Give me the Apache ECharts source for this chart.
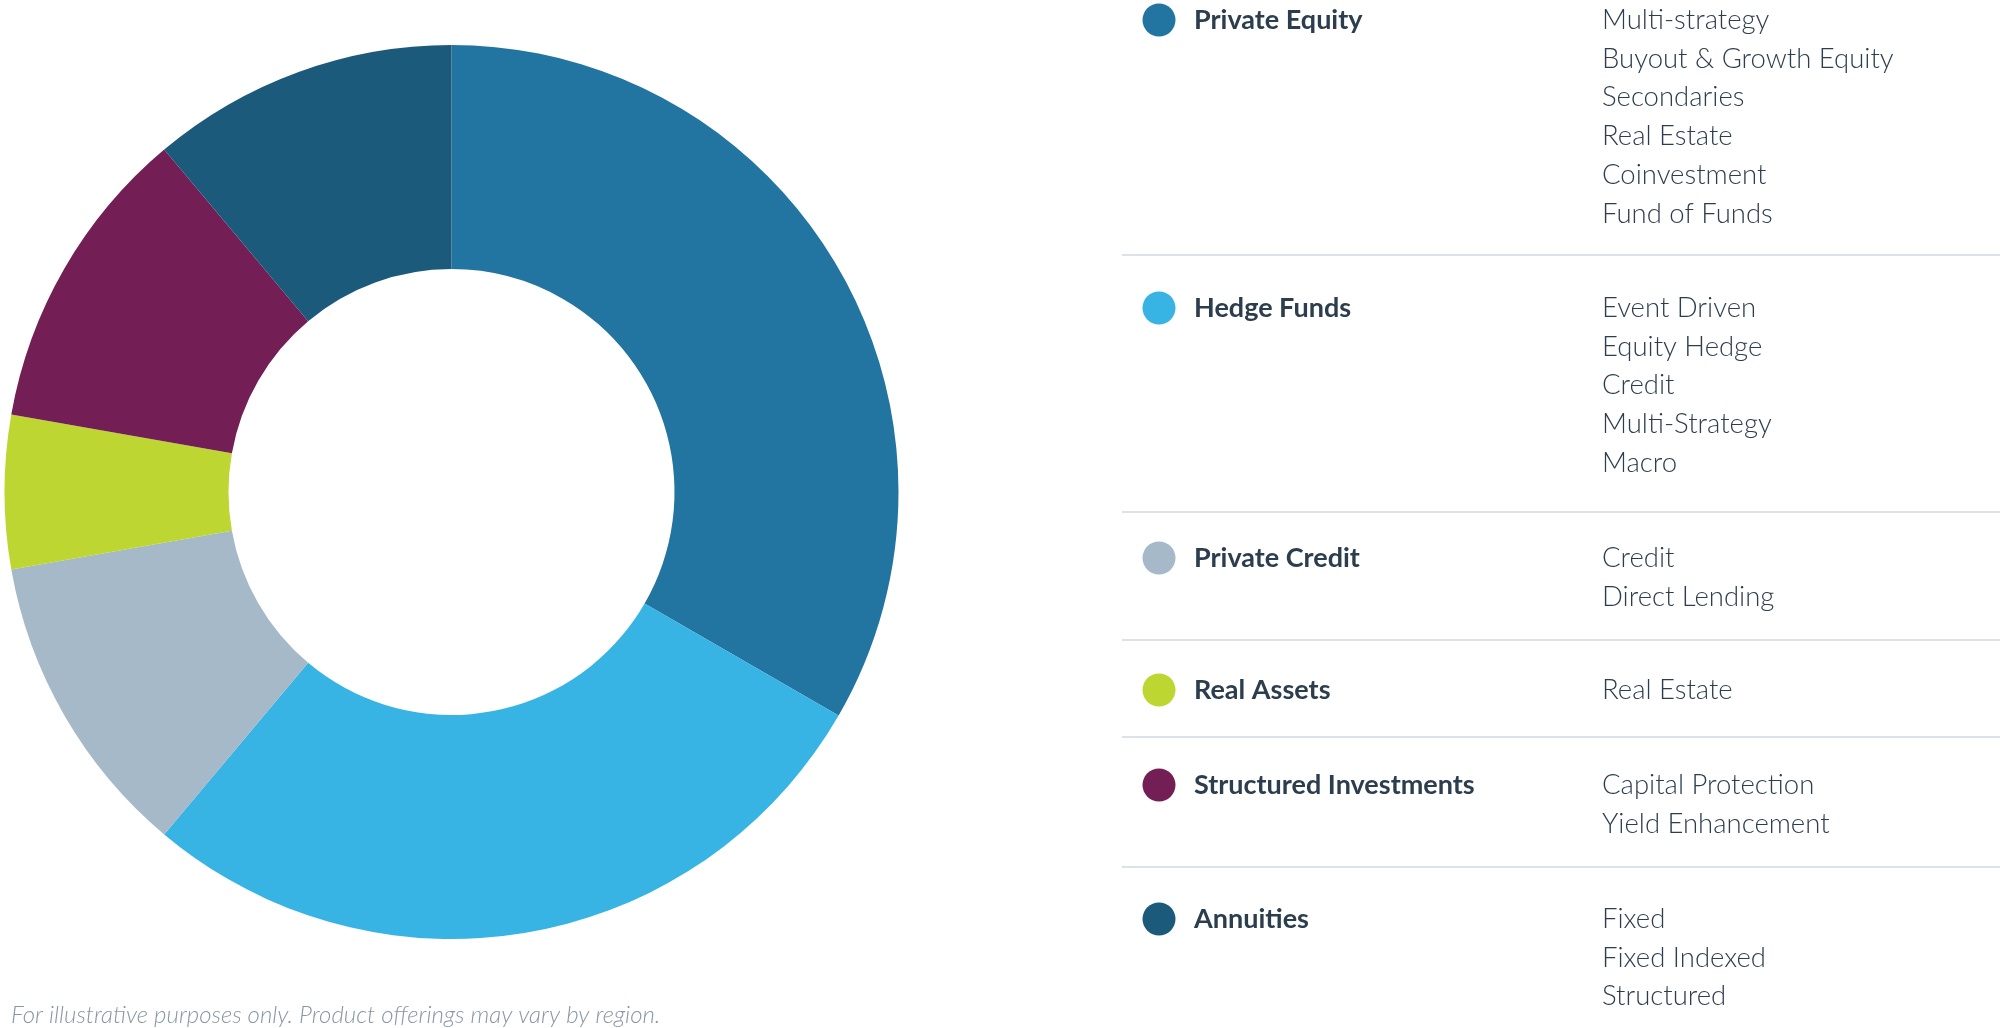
<!DOCTYPE html>
<html>
<head>
<meta charset="utf-8">
<script src="https://cdn.jsdelivr.net/npm/echarts@6/dist/echarts.min.js"></script>
<style>
html,body{margin:0;padding:0;background:#fff;}
#chart{width:2000px;height:1028px;}
</style>
</head>
<body>
<div id="chart"></div>
<script>
// ---- data ----
const categories = ['Private Equity','Hedge Funds','Private Credit','Real Assets','Structured Investments','Annuities'];
const shares = [6, 5, 2, 1, 2, 2];
const colors = ['#2274a1','#37b3e4','#a5b9c8','#bed631','#731f55','#1b5a7b'];
const subPrivateEquity = ['Multi-strategy','Buyout & Growth Equity','Secondaries','Real Estate','Coinvestment','Fund of Funds'];
const subHedgeFunds = ['Event Driven','Equity Hedge','Credit','Multi-Strategy','Macro'];
const subPrivateCredit = ['Credit','Direct Lending'];
const subRealAssets = ['Real Estate'];
const subStructured = ['Capital Protection','Yield Enhancement'];
const subAnnuities = ['Fixed','Fixed Indexed','Structured'];
const subItems = [subPrivateEquity, subHedgeFunds, subPrivateCredit, subRealAssets, subStructured, subAnnuities];
const footnote = 'For illustrative purposes only. Product offerings may vary by region.';

// ---- layout (positions only) ----
const FONT = 'Lato, "Open Sans", sans-serif';
const TXT = '#2c3e4e';
const lineH = 38.8;
const groupY = [20, 308, 558, 690, 785, 919];
const sepY = [255, 512, 640, 737, 867];
const dotX = 1159, headX = 1194, subX = 1602;
const graphics = [];
categories.forEach((cat, i) => {
  const y = groupY[i];
  graphics.push({type:'circle', shape:{cx:dotX, cy:y, r:16.5}, style:{fill:colors[i]}, silent:true});
  graphics.push({type:'text', x:headX, y:y, style:{text:cat, font:'bold 27px ' + FONT, fill:TXT, verticalAlign:'middle', textVerticalAlign:'middle'}, silent:true});
  subItems[i].forEach((s, j) => {
    graphics.push({type:'text', x:subX, y:y + j*lineH, style:{text:s, font:'300 27.5px ' + FONT, fill:TXT, verticalAlign:'middle', textVerticalAlign:'middle'}, silent:true});
  });
});
sepY.forEach(sy => {
  graphics.push({type:'rect', shape:{x:1122, y:sy - 1, width:878, height:2}, style:{fill:'#dbe3e9'}, silent:true});
});
graphics.push({type:'text', x:11, y:1015, style:{text:footnote, font:'italic 300 24px ' + FONT, fill:'#8797a4', verticalAlign:'middle', textVerticalAlign:'middle'}, silent:true});

const chart = echarts.init(document.getElementById('chart'), null, {renderer:'canvas'});
chart.setOption({
  animation:false,
  backgroundColor:'#ffffff',
  series:[{
    type:'pie',
    center:[451.5, 492],
    radius:[223, 447],
    startAngle:90,
    clockwise:true,
    label:{show:false},
    labelLine:{show:false},
    emphasis:{disabled:true},
    itemStyle:{borderWidth:0},
    data: categories.map((c, i) => ({name:c, value:shares[i], itemStyle:{color:colors[i]}}))
  }],
  graphic: graphics
});
</script>
</body>
</html>
